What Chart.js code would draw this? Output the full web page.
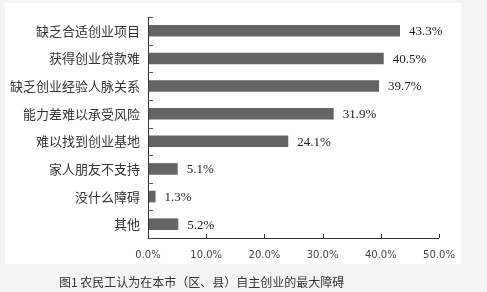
<!DOCTYPE html>
<html><head><meta charset="utf-8">
<script src="https://cdn.jsdelivr.net/npm/chart.js@4/dist/chart.umd.min.js"></script>
<style>
html,body{margin:0;padding:0;background:#f4f4f4;}
#wrap{position:relative;width:487px;height:292px;overflow:hidden;}
#c{position:absolute;left:0;top:0;}
#cap{position:absolute;left:59px;top:273px;font:12px "Noto Sans CJK SC","Noto Sans",sans-serif;color:#333;white-space:nowrap;}
</style></head>
<body><div id="wrap"><canvas id="c" width="487" height="292"></canvas>
<div id="cap">图1 农民工认为在本市（区、县）自主创业的最大障碍</div></div>
<script>
const categories = ["缺乏合适创业项目","获得创业贷款难","缺乏创业经验人脉关系","能力差难以承受风险","难以找到创业基地","家人朋友不支持","没什么障碍","其他"];
const values = [43.3, 40.5, 39.7, 31.9, 24.1, 5.1, 1.3, 5.2];
const xTicks = [0, 10, 20, 30, 40, 50];

const panel = {
  id:'panel',
  beforeDraw(chart){
    const ctx=chart.ctx; ctx.save();
    ctx.fillStyle='#f4f4f4'; ctx.fillRect(0,0,487,292);
    ctx.fillStyle='#ffffff'; ctx.fillRect(5,3,456,261);
    ctx.restore();
  },
  afterDraw(chart){
    const ctx=chart.ctx, a=chart.chartArea, xs=chart.scales.x, ys=chart.scales.y;
    ctx.save();
    ctx.strokeStyle='#333'; ctx.lineWidth=1;
    ctx.beginPath();
    ctx.moveTo(Math.round(a.left)+0.5, a.top); ctx.lineTo(Math.round(a.left)+0.5, Math.round(a.bottom)+0.5);
    ctx.lineTo(a.right, Math.round(a.bottom)+0.5);
    ctx.stroke();
    ctx.beginPath();
    xTicks.forEach(v=>{ const x=Math.round(xs.getPixelForValue(v))+0.5; ctx.moveTo(x,a.bottom); ctx.lineTo(x,a.bottom-4); });
    ctx.stroke();
    ctx.strokeStyle='#555';
    ctx.beginPath();
    const n=categories.length, band=(a.bottom-a.top)/n;
    for(let i=0;i<=n;i++){ const y=Math.round(a.top+i*band)+0.5; ctx.moveTo(a.left,y); ctx.lineTo(a.left+5,y); }
    ctx.stroke();
    ctx.fillStyle='#222'; ctx.font='13px "Liberation Serif","Times New Roman",serif';
    ctx.textBaseline='middle'; ctx.textAlign='left';
    const meta=chart.getDatasetMeta(0);
    meta.data.forEach((bar,i)=>{ ctx.fillText(values[i].toFixed(1)+'%', bar.x+9, bar.y+1); });
    ctx.restore();
  }
};

new Chart(document.getElementById('c'),{
  type:'bar',
  data:{labels:categories,datasets:[{data:values,backgroundColor:'#646464',barPercentage:0.42,categoryPercentage:1}]},
  options:{
    indexAxis:'y',responsive:false,animation:false,
    layout:{padding:{left:0,top:17,right:48,bottom:0}},
    plugins:{legend:{display:false},tooltip:{enabled:false}},
    scales:{
      x:{min:0,max:50,
        afterBuildTicks(s){ s.ticks = xTicks.map(v=>({value:v})); },
        afterFit(s){ s.height=54; },
        grid:{display:false,drawTicks:false},border:{display:false},
        ticks:{padding:11,color:'#444',font:{family:'"DejaVu Sans",sans-serif',size:10},callback:v=>Number(v).toFixed(1)+'%',maxRotation:0}},
      y:{
        afterFit(s){ s.width=148; },
        grid:{display:false,drawTicks:false},border:{display:false},
        ticks:{padding:8,color:'#333',font:{family:'"Noto Sans CJK SC",sans-serif',size:13}}}
    }
  },
  plugins:[panel]
});
</script></body></html>
